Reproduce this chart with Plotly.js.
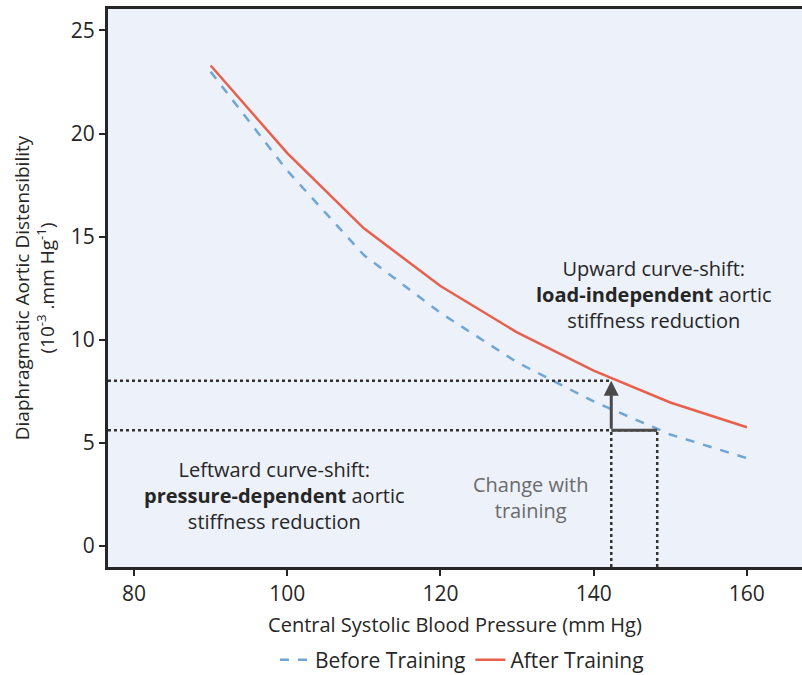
<!DOCTYPE html>
<html>
<head>
<meta charset="utf-8">
<script src="https://cdn.plot.ly/plotly-3.0.1.min.js"></script>
<style>html,body{margin:0;padding:0;background:#fff}#chart{width:802px;height:675px}</style>
</head>
<body>
<div id="chart"></div>
<script>
// Data
const pressure = [90, 100, 110, 120, 130, 140, 150, 160];
const beforeTraining = [23.0, 18.2, 14.1, 11.3, 8.9, 7.0, 5.4, 4.25];
const afterTraining = [23.3, 19.05, 15.4, 12.6, 10.35, 8.5, 6.95, 5.75];
const seriesNames = ["Before Training", "After Training"];
// Guide points: pressure before/after and distensibility before/after
const guidePressure = [148.3, 142.3];      // [before, after]
const guideDistensibility = [5.6, 8.0];    // [before, after]
const xTicks = [80, 100, 120, 140, 160];
const yTicks = [0, 5, 10, 15, 20, 25];

const xRange = [76.6, 167.2];
const yRange = [-1.03, 26.04];
const fontFam = "'Open Sans', 'Noto Sans', sans-serif";
const dark = "#262626";

const traces = [
  {x: pressure, y: beforeTraining, name: seriesNames[0], mode: "lines",
   line: {color: "#6fa6d6", width: 2.5, dash: "dash"}},
  {x: pressure, y: afterTraining, name: seriesNames[1], mode: "lines",
   line: {color: "#e8604c", width: 2.5}}
];

const dotLine = {color: "#333", width: 2.5, dash: "dot"};
const shapes = [
  // horizontal guides from y-axis to the points
  {type: "line", xref: "x", yref: "y", x0: xRange[0], x1: guidePressure[1], y0: guideDistensibility[1], y1: guideDistensibility[1], line: dotLine},
  {type: "line", xref: "x", yref: "y", x0: xRange[0], x1: guidePressure[0], y0: guideDistensibility[0], y1: guideDistensibility[0], line: dotLine},
  // vertical guides to x-axis
  {type: "line", xref: "x", yref: "y", x0: guidePressure[1], x1: guidePressure[1], y0: yRange[0], y1: guideDistensibility[0], line: dotLine},
  {type: "line", xref: "x", yref: "y", x0: guidePressure[0], x1: guidePressure[0], y0: yRange[0], y1: guideDistensibility[0], line: dotLine},
  // solid horizontal leg of change arrow
  {type: "line", xref: "x", yref: "y", x0: guidePressure[0], x1: guidePressure[1], y0: guideDistensibility[0], y1: guideDistensibility[0], line: {color: "#4a4a4a", width: 3}}
];

const layout = {
  width: 802, height: 675,
  margin: {l: 108, r: 0, t: 9, b: 108},
  paper_bgcolor: "#ffffff",
  plot_bgcolor: "#ecf1fa",
  font: {family: fontFam, color: dark, size: 20},
  showlegend: true,
  legend: {orientation: "h", x: 0.51, xanchor: "center", yref: "container", y: 0.022, yanchor: "middle",
           font: {size: 21, color: dark}, bgcolor: "rgba(0,0,0,0)"},
  xaxis: {
    range: xRange, tickvals: xTicks, ticktext: xTicks.map(String), automargin: false,
    showgrid: false, zeroline: false, showline: true, mirror: true,
    linecolor: dark, linewidth: 3, ticks: "outside", ticklen: 6, tickwidth: 2, tickcolor: dark,
    tickfont: {size: 21, color: dark},
    title: {text: "Central Systolic Blood Pressure (mm Hg)", font: {size: 20, color: dark}, standoff: 12}
  },
  yaxis: {
    range: yRange, tickvals: yTicks, ticktext: yTicks.map(String), automargin: false,
    showgrid: false, zeroline: false, showline: true,
    linecolor: dark, linewidth: 3, ticks: "outside", ticklen: 6, tickwidth: 2, tickcolor: dark,
    tickfont: {size: 21, color: dark},
    title: {text: "Diaphragmatic Aortic Distensibility<br>(10<sup>-3</sup> .mm Hg<sup>-1</sup>)", font: {size: 19, color: dark}, standoff: 12}
  },
  shapes: shapes,
  annotations: [
    {xref: "x", yref: "y", x: guidePressure[1], y: guideDistensibility[1],
     ax: guidePressure[1], ay: guideDistensibility[0], axref: "x", ayref: "y",
     showarrow: true, arrowhead: 2, arrowsize: 1, arrowwidth: 3, arrowcolor: "#4a4a4a", text: ""},
    {xref: "x", yref: "y", x: 147.9, y: 12.2, showarrow: false, align: "center",
     text: "Upward curve-shift:<br><b>load-independent</b> aortic<br>stiffness reduction",
     font: {size: 20, color: dark}},
    {xref: "x", yref: "y", x: 98.4, y: 2.46, showarrow: false, align: "center",
     text: "Leftward curve-shift:<br><b>pressure-dependent</b> aortic<br>stiffness reduction",
     font: {size: 20, color: dark}},
    {xref: "x", yref: "y", x: 131.8, y: 2.36, showarrow: false, align: "center",
     text: "Change with<br>training", font: {size: 20, color: "#6a6a6a"}}
  ]
};

Plotly.newPlot("chart", traces, layout, {displayModeBar: false, staticPlot: true});
</script>
</body>
</html>
